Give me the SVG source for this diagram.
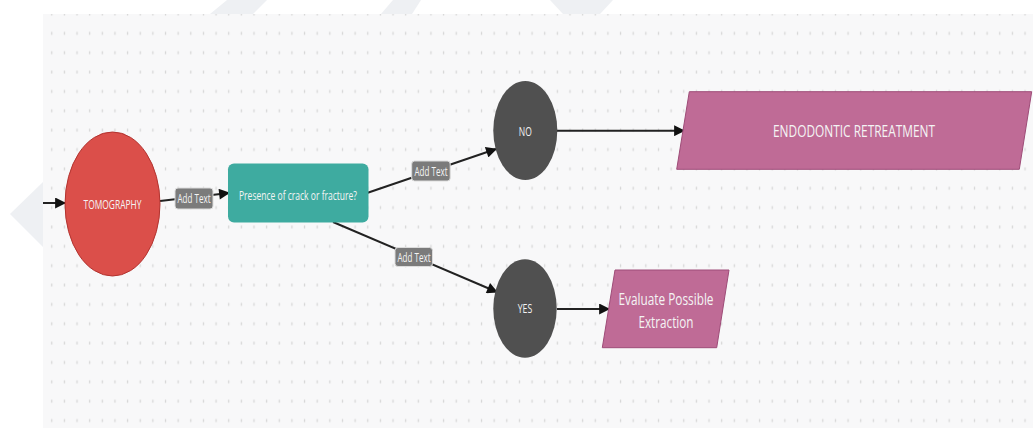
<svg xmlns="http://www.w3.org/2000/svg" width="1033" height="428" viewBox="0 0 1033 428">
  <style>
    .lbl { fill: #f4f4f4; font-family: "Open Sans", "Liberation Sans", sans-serif; text-anchor: middle; }
    .conn { stroke: #222222; stroke-width: 2; fill: none; }
    .pill { fill: #7b7b7b; stroke: #dcdcdc; stroke-width: 1; }
    .wm { fill: #eef0f3; }
  </style>
  <defs>
    <pattern id="dots" patternUnits="userSpaceOnUse" x="45.4" y="4.3" width="12.64" height="19.36">
      <rect x="5.7" y="8.2" width="1.3" height="3" fill="#d6d6d6"/>
    </pattern>
    <marker id="arrow" viewBox="0 0 10 10" refX="9" refY="5" markerWidth="12" markerHeight="11" markerUnits="userSpaceOnUse" orient="auto">
      <path d="M0,0 L10,5 L0,10 Z" fill="#111111"/>
    </marker>
  </defs>

  <rect x="0" y="0" width="1033" height="428" fill="#ffffff"/>
  <g id="watermark">
    <polygon class="wm" points="227,0 267,0 253,14 210,14"/>
    <polygon class="wm" points="393,0 421,0 412,14 381,14"/>
    <polygon class="wm" points="550,0 613,0 600,14 563,14"/>
    <polygon class="wm" points="43,182 10,214 43,247"/>
  </g>
  <rect x="43" y="14" width="990" height="414" fill="#f8f8f9"/>
  <rect x="43" y="14" width="990" height="414" fill="url(#dots)"/>

  <g id="connectors">
    <path class="conn" d="M43,203 L65,203" marker-end="url(#arrow)"/>
    <path class="conn" d="M160,201 L229,193" marker-end="url(#arrow)"/>
    <path class="conn" d="M367,193 L496,149" marker-end="url(#arrow)"/>
    <path class="conn" d="M557,130.7 L684,130.7" marker-end="url(#arrow)"/>
    <path class="conn" d="M333,222 L497,292" marker-end="url(#arrow)"/>
    <path class="conn" d="M557,309 L609,309" marker-end="url(#arrow)"/>
    <g id="label-1">
      <rect class="pill" x="175" y="188" width="38" height="21" rx="3"/>
      <text class="lbl" x="194" y="203" font-size="12.5" textLength="33" lengthAdjust="spacingAndGlyphs">Add Text</text>
    </g>
    <g id="label-2">
      <rect class="pill" x="411.7" y="161" width="38.5" height="20" rx="3"/>
      <text class="lbl" x="431" y="175.6" font-size="12.5" textLength="33" lengthAdjust="spacingAndGlyphs">Add Text</text>
    </g>
    <g id="label-3">
      <rect class="pill" x="395" y="247.5" width="37.5" height="19" rx="3"/>
      <text class="lbl" x="414" y="261.6" font-size="12.5" textLength="33" lengthAdjust="spacingAndGlyphs">Add Text</text>
    </g>
  </g>

  <g id="tomography">
    <ellipse cx="112.5" cy="204" rx="47.5" ry="72" fill="#db4f4a" stroke="#b3332f" stroke-width="1"/>
    <text class="lbl" x="112.5" y="208.8" font-size="13" textLength="58" lengthAdjust="spacingAndGlyphs">TOMOGRAPHY</text>
  </g>

  <g id="presence">
    <rect x="228" y="163.5" width="140.5" height="59" rx="6" fill="#3eaba0"/>
    <text class="lbl" x="298" y="199.8" font-size="13.5" textLength="118" lengthAdjust="spacingAndGlyphs">Presence of crack or fracture?</text>
  </g>

  <g id="no">
    <ellipse cx="525.3" cy="130.5" rx="32" ry="49.5" fill="#505050"/>
    <text class="lbl" x="525.3" y="136.3" font-size="13" textLength="13" lengthAdjust="spacingAndGlyphs">NO</text>
  </g>

  <g id="yes">
    <ellipse cx="525" cy="308.5" rx="31.7" ry="49.2" fill="#505050"/>
    <text class="lbl" x="525" y="313.3" font-size="13" textLength="14.5" lengthAdjust="spacingAndGlyphs">YES</text>
  </g>

  <g id="endodontic">
    <polygon points="689.3,91.7 1031.7,91.7 1019.3,169.3 676.7,169.3" fill="#bf6b96" stroke="#9e4c78" stroke-width="1"/>
    <text class="lbl" x="854" y="137" font-size="17" textLength="162" lengthAdjust="spacingAndGlyphs">ENDODONTIC RETREATMENT</text>
  </g>

  <g id="evaluate">
    <polygon points="615,270 729,270 716.7,347.7 602.3,347.7" fill="#bf6b96" stroke="#9e4c78" stroke-width="1"/>
    <text class="lbl" x="666" y="304.5" font-size="17" textLength="95" lengthAdjust="spacingAndGlyphs">Evaluate Possible</text>
    <text class="lbl" x="666" y="328" font-size="17" textLength="55" lengthAdjust="spacingAndGlyphs">Extraction</text>
  </g>
</svg>
